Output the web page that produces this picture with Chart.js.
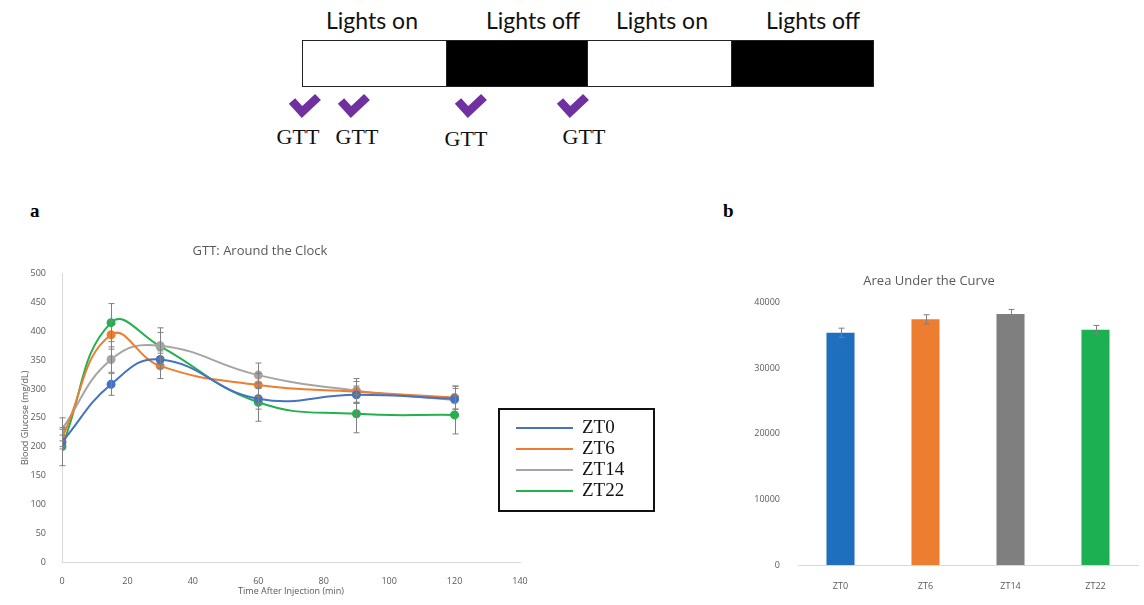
<!DOCTYPE html>
<html>
<head>
<meta charset="utf-8">
<script src="https://cdn.jsdelivr.net/npm/chart.js@4.4.1/dist/chart.umd.min.js"></script>
<style>
  body { margin: 0; background: #fff; width: 1144px; height: 605px; position: relative; overflow: hidden; font-family: "Open Sans", sans-serif; }
  .abs { position: absolute; }
  .lbl { font-family: Lato, "Open Sans", sans-serif; font-size: 23px; color: #111; white-space: nowrap; transform: translateX(-50%); }
  .gtt { font-family: "Liberation Serif", "DejaVu Serif", serif; font-size: 22px; color: #111; transform: translateX(-50%); }
  .seg { position: absolute; top: 40px; height: 47px; border: 1.5px solid #222; box-sizing: border-box; }
  .panel { font-family: "Liberation Serif", serif; font-weight: bold; font-size: 19px; }
  #legendA { position: absolute; left: 498px; top: 408px; width: 157px; height: 104px; border: 2px solid #111; box-sizing: border-box; }
  #legendA .row { position: absolute; left: 16px; height: 20px; font-family: "Liberation Serif", serif; font-size: 19px; color: #111; }
  #legendA .row span.ln { position: absolute; left: 0; top: 9px; width: 57px; height: 2px; }
  #legendA .row span.tx { position: absolute; left: 66px; top: -2px; }
</style>
</head>
<body>
<!-- schema luz / escuro -->
<div class="seg" style="left:302px;width:145px;background:#fff"></div>
<div class="seg" style="left:446px;width:142px;background:#000"></div>
<div class="seg" style="left:587px;width:145px;background:#fff"></div>
<div class="seg" style="left:731px;width:143px;background:#000"></div>
<div class="abs lbl" style="left:372px;top:6px">Lights on</div>
<div class="abs lbl" style="left:533px;top:6px">Lights off</div>
<div class="abs lbl" style="left:662px;top:6px">Lights on</div>
<div class="abs lbl" style="left:813px;top:6px">Lights off</div>
<div id="checks"></div>
<div class="abs panel" style="left:30px;top:200px">a</div>
<div class="abs panel" style="left:723px;top:200px">b</div>

<canvas id="chartA" class="abs" style="left:0;top:235px" width="540" height="370"></canvas>
<canvas id="chartB" class="abs" style="left:720px;top:235px" width="424" height="370"></canvas>
<div id="legendA"></div>

<script>
// dados do GTT
const times = [0, 15, 30, 60, 90, 120];
const seriesNames = ["ZT0", "ZT6", "ZT14", "ZT22"];
const zt0 = [208, 308, 351, 283, 290, 283];
const zt6 = [215, 394, 340, 307, 295, 285];
const zt14 = [230, 351, 375, 324, 297, 281];
const zt22 = [200, 415, 374, 277, 257, 255];
const zt0Err = [12, 19, 15, 18, 15, 18];
const zt6Err = [15, 25, 22, 20, 18, 20];
const zt14Err = [20, 22, 23, 21, 21, 24];
const zt22Err = [33, 33, 32, 33, 33, 33];
const lineColors = ["#4472C4", "#ED7D31", "#A5A5A5", "#22B14C"];

// área sob a curva
const aucValues = [35400, 37450, 38260, 35870];
const aucErr = [700, 700, 700, 650];
const barColors = ["#1F6FBF", "#ED7D31", "#7F7F7F", "#1DB053"];

// marcas GTT do esquema
const gttChecks = [305, 354, 471, 573];
const gttLabels = [298, 357, 466, 584];

const checks = document.querySelector("#checks");
gttChecks.forEach((x) => {
  checks.innerHTML += `<svg class="abs" style="left:${x - 17}px;top:92px" width="34" height="28">
    <polyline points="4,9 14,20 30,5" fill="none" stroke="#7030A0" stroke-width="8.5" stroke-linejoin="miter"/></svg>`;
});
gttLabels.forEach((x, i) => {
  checks.innerHTML += `<div class="abs gtt" style="left:${x}px;top:${i === 2 ? 126 : 124}px">GTT</div>`;
});

// Plugin para barras de erro
const errorBars = {
  id: "errorBars",
  afterDatasetsDraw(chart) {
    const ctx = chart.ctx;
    const yScale = chart.scales.y;
    ctx.save();
    ctx.strokeStyle = "#808080";
    ctx.lineWidth = 1;
    chart.data.datasets.forEach((ds, i) => {
      if (!ds.errors) return;
      const meta = chart.getDatasetMeta(i);
      meta.data.forEach((el, j) => {
        const v = typeof ds.data[j] === "object" ? ds.data[j].y : ds.data[j];
        const top = yScale.getPixelForValue(v + ds.errors[j]);
        const bot = yScale.getPixelForValue(v - ds.errors[j]);
        const x = Math.round(el.x) + 0.5;
        ctx.beginPath();
        ctx.moveTo(x, top); ctx.lineTo(x, bot);
        ctx.moveTo(x - 3, top); ctx.lineTo(x + 3, top);
        ctx.moveTo(x - 3, bot); ctx.lineTo(x + 3, bot);
        ctx.stroke();
      });
    });
    ctx.restore();
  }
};

const tickFont = { family: "Open Sans", size: 9 };
const axisGray = "#595959";

const lineSets = [zt0, zt6, zt14, zt22];
const lineErrs = [zt0Err, zt6Err, zt14Err, zt22Err];

new Chart(document.getElementById("chartA"), {
  type: "line",
  data: {
    datasets: seriesNames.map((name, i) => ({
      label: name,
      data: times.map((t, j) => ({ x: t, y: lineSets[i][j] })),
      errors: lineErrs[i],
      borderColor: lineColors[i],
      backgroundColor: lineColors[i],
      borderWidth: 2,
      pointRadius: 3.5,
      tension: 0.45
    }))
  },
  options: {
    responsive: false,
    animation: false,
    layout: { padding: { left: 0, right: 20, top: 0, bottom: 0 } },
    plugins: {
      legend: { display: false },
      tooltip: { enabled: false },
      title: {
        display: true,
        text: "GTT: Around the Clock",
        color: axisGray,
        font: { family: "Open Sans", size: 13, weight: "normal" },
        padding: { top: 8, bottom: 15 }
      }
    },
    scales: {
      x: {
        type: "linear",
        min: 0, max: 140,
        ticks: { stepSize: 20, color: axisGray, font: tickFont, padding: 6 },
        grid: { display: false },
        border: { color: "#d9d9d9" },
        title: { display: true, text: "Time After Injection (min)", color: axisGray, font: tickFont, padding: { top: 2, bottom: 8 } },
        afterFit: (s) => { s.height = 43; }
      },
      y: {
        min: 0, max: 500,
        ticks: { stepSize: 50, color: axisGray, font: tickFont, padding: 8 },
        grid: { display: false },
        border: { color: "#d9d9d9" },
        title: { display: true, text: "Blood Glucose (mg/dL)", color: axisGray, font: tickFont, padding: { top: 20, bottom: 0 } },
        afterFit: (s) => { s.width = 62; }
      }
    }
  },
  plugins: [errorBars]
});

// legenda manual (caixa com borda preta)
const legendA = document.querySelector("#legendA");
seriesNames.forEach((name, i) => {
  legendA.innerHTML += `<div class="row" style="top:${8 + i * 21}px">
    <span class="ln" style="background:${lineColors[i]}"></span><span class="tx">${name}</span></div>`;
});

new Chart(document.getElementById("chartB"), {
  type: "bar",
  data: {
    labels: seriesNames,
    datasets: [{
      label: "AUC",
      data: aucValues,
      errors: aucErr,
      backgroundColor: barColors,
      barPercentage: 0.33,
      categoryPercentage: 1
    }]
  },
  options: {
    responsive: false,
    animation: false,
    layout: { padding: { left: 0, right: 6, top: 0, bottom: 0 } },
    plugins: {
      legend: { display: false },
      tooltip: { enabled: false },
      title: {
        display: true,
        text: "Area Under the Curve",
        color: axisGray,
        font: { family: "Open Sans", size: 13, weight: "normal" },
        padding: { top: 38, bottom: 14 }
      }
    },
    scales: {
      x: {
        ticks: { color: axisGray, font: tickFont, padding: 8 },
        grid: { display: false },
        border: { color: "#d9d9d9" },
        afterFit: (s) => { s.height = 40; }
      },
      y: {
        min: 0, max: 40000,
        ticks: { stepSize: 10000, color: axisGray, font: tickFont, padding: 10, callback: (v) => String(v) },
        grid: { display: false },
        border: { display: false },
        afterFit: (s) => { s.width = 78; }
      }
    }
  },
  plugins: [errorBars]
});
</script>
</body>
</html>
